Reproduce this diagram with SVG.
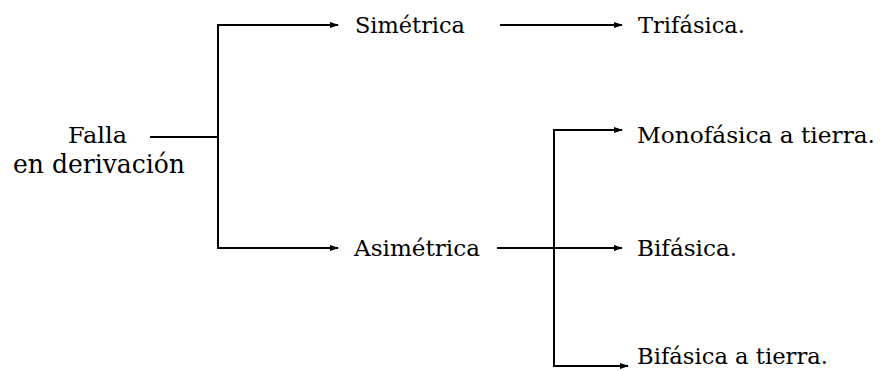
<svg xmlns="http://www.w3.org/2000/svg" width="881" height="371" viewBox="0 0 881 371">
<style>
text{font-family:'DejaVu Serif','Liberation Serif',serif;fill:#000}
.t{font-size:23px}
.big{font-size:26px}
.c{fill:none;stroke:#000;stroke-width:2}
</style>
<defs>
<marker id="ah" markerWidth="9" markerHeight="7" refX="8" refY="3.5" orient="auto" markerUnits="userSpaceOnUse">
<path d="M0,0.5 L9,3.5 L0,6.5 Z" fill="#000"/>
</marker>
</defs>
<rect width="881" height="371" fill="#fff"/>
<g id="connectors">
<path class="c" d="M150,137 H218"/>
<path class="c" d="M218,25 V248"/>
<path class="c" d="M217,25 H338" marker-end="url(#ah)"/>
<path class="c" d="M217,248 H338" marker-end="url(#ah)"/>
<path class="c" d="M500,25 H622" marker-end="url(#ah)"/>
<path class="c" d="M497,248 H622" marker-end="url(#ah)"/>
<path class="c" d="M554,366 V130 H622" marker-end="url(#ah)"/>
<path class="c" d="M553,366 H628" marker-end="url(#ah)"/>
</g>
<g id="falla"><text class="t" x="68" y="143" textLength="59" lengthAdjust="spacingAndGlyphs">Falla</text>
<text class="big" x="13" y="173" textLength="172" lengthAdjust="spacingAndGlyphs">en derivación</text></g>
<g id="simetrica"><text class="t" x="355" y="33" textLength="110" lengthAdjust="spacingAndGlyphs">Simétrica</text></g>
<g id="asimetrica"><text class="t" x="354" y="256" textLength="126" lengthAdjust="spacingAndGlyphs">Asimétrica</text></g>
<g id="trifasica"><text class="t" x="638" y="33" textLength="107" lengthAdjust="spacingAndGlyphs">Trifásica.</text></g>
<g id="monofasica"><text class="t" x="637" y="143" textLength="238" lengthAdjust="spacingAndGlyphs">Monofásica a tierra.</text></g>
<g id="bifasica"><text class="t" x="637" y="256" textLength="100" lengthAdjust="spacingAndGlyphs">Bifásica.</text></g>
<g id="bifasica-tierra"><text class="t" x="637" y="364" textLength="191" lengthAdjust="spacingAndGlyphs">Bifásica a tierra.</text></g>
</svg>
